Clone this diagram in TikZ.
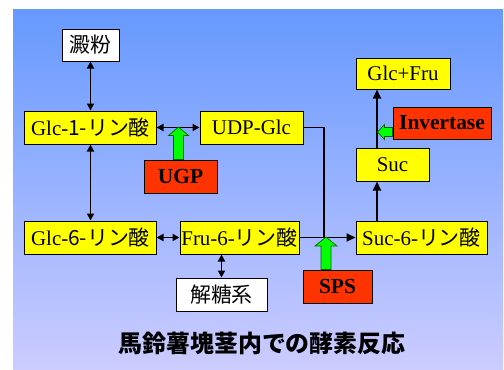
\documentclass[tikz,border=0pt]{standalone}
\usepackage{fontspec}
\setmainfont{Liberation Serif}
\newfontfamily\cjk{Noto Sans CJK JP}
\usetikzlibrary{arrows.meta}
\definecolor{bgtop}{RGB}{102,153,255}
\definecolor{bgbot}{RGB}{204,204,255}
\definecolor{boxyellow}{RGB}{255,255,0}
\definecolor{boxred}{RGB}{255,51,0}
\definecolor{arrgreen}{RGB}{0,255,0}
\begin{document}
\begin{tikzpicture}[x=1bp,y=-1bp,
 box/.style={draw=black, line width=1bp, inner sep=0pt, minimum height=33bp, font=\fontsize{21}{23}\selectfont},
 ybox/.style={box, fill=boxyellow},
 wbox/.style={box, fill=white},
 rbox/.style={box, fill=boxred, font=\fontsize{21.5}{23}\selectfont\bfseries},
 conn/.style={line width=1.8bp, draw=black},
 arr/.style={conn, -{Triangle[length=9bp,width=8bp]}},
 darr/.style={conn, {Triangle[length=7bp,width=7bp]}-{Triangle[length=7bp,width=7bp]}},
 garrow/.style={fill=arrgreen, draw=black!60!green, line width=0.7bp}
]
\useasboundingbox (0,0) rectangle (504,369);
\fill[white] (0,0) rectangle (504,369);
\shade[top color=bgtop, bottom color=bgbot] (13,9) rectangle (503,369);

\node[wbox, minimum width=57bp, minimum height=32bp] (starch) at (90.5,45) {\cjk 澱粉};
\node[ybox, minimum width=131bp] (glc1) at (90.5,127.5) {Glc-{\cjk 1-リン酸}};
\node[ybox, minimum width=103bp] (udp) at (251.5,127.5) {UDP-Glc};
\node[rbox, minimum width=73bp] (ugp) at (180.5,176.5) {UGP};
\node[ybox, minimum width=131bp] (glc6) at (90.5,237.5) {Glc-{\cjk 6-リン酸}};
\node[ybox, minimum width=119bp] (fru6) at (239.5,237.5) {Fru-6-{\cjk リン酸}};
\node[wbox, minimum width=91bp] (glyc) at (221.5,294.5) {\cjk 解糖系};
\node[rbox, minimum width=69bp] (sps) at (337.5,286.5) {SPS};
\node[ybox, minimum width=131bp] (suc6) at (421.5,237.5) {Suc-6-{\cjk リン酸}};
\node[ybox, minimum width=73bp] (suc) at (392.5,164.5) {Suc};
\node[ybox, minimum width=94bp, minimum height=31bp] (glcfru) at (403,73.5) {Glc+Fru};
\node[rbox, minimum width=98bp, minimum height=32bp] (inv) at (442,123) {Invertase};

\node[font=\cjk\bfseries\fontsize{24}{26}\selectfont] (title) at (262,343) {馬鈴薯塊茎内での酵素反応};

% connectors
\draw[darr] (starch.south) -- (glc1.north -| starch.south);
\draw[darr] (glc1.south) -- (glc6.north);
\draw[darr] (glc1.east) -- (udp.west);
\draw[darr] (glc6.east) -- (fru6.west);
\draw[darr] (fru6.south -| glyc.north) -- (glyc.north);
\coordinate (j) at (324,237.5);
\draw[conn] (udp.east) -| (j);
\draw[arr] (fru6.east) -- (suc6.west);
\coordinate (vx) at (377,0);
\draw[arr] (suc6.north -| vx) -- (suc.south -| vx);
\draw[arr] (suc.north -| vx) -- (glcfru.south -| vx);

% green enzyme arrows
\draw[garrow] ([xshift=-7bp]ugp.north) -- ++(0,-24) -- ++(-5,0) -- ++(10,-8.5) -- ++(10,8.5) -- ++(-5,0) -- ++(0,24) -- cycle;
\draw[garrow] ([xshift=-16.5bp]sps.north) -- ++(0,-23.5) -- ++(-6,0) -- ++(11,-9) -- ++(11,9) -- ++(-6,0) -- ++(0,23.5) -- cycle;
\draw[garrow] ([yshift=-4.5bp]inv.west) -- ++(-8,0) -- ++(0,-3) -- ++(-7,7.5) -- ++(7,7.5) -- ++(0,-3) -- ++(8,0) -- cycle;
\end{tikzpicture}
\end{document}
